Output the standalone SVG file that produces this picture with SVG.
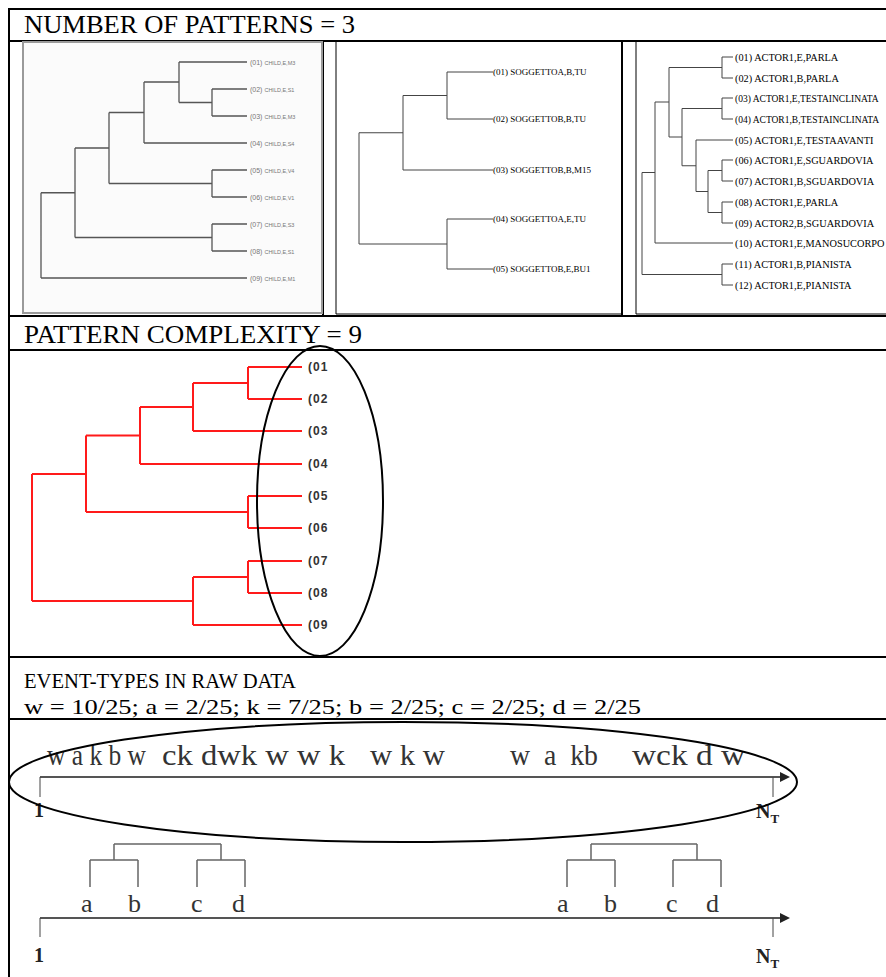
<svg xmlns="http://www.w3.org/2000/svg" width="886" height="977" viewBox="0 0 886 977">
<style>
.frame{stroke:#000;stroke-width:2;fill:none}
.thin{stroke:#000;stroke-width:1;fill:none}
.title{font-family:"Liberation Serif","Times New Roman",serif;font-size:25px;fill:#000}
.sub{font-family:"Liberation Serif","Times New Roman",serif;font-size:22px;fill:#000}
.g1{stroke:#555;stroke-width:1.3;fill:none}
.g2{stroke:#444;stroke-width:1;fill:none}
.red{stroke:#ff1a1a;stroke-width:2;fill:none}
.lab1{font-family:"Liberation Sans",Arial,sans-serif;font-size:7px;fill:#777}
.lab1s{font-size:5.5px}
.lab2{font-family:"Liberation Serif","Times New Roman",serif;font-size:9px;fill:#000}
.lab3{font-family:"Liberation Serif","Times New Roman",serif;font-size:10.3px;fill:#000}
.lab3n{font-size:9.5px}
.labr{font-family:"Liberation Sans",Arial,sans-serif;font-size:12px;font-weight:bold;fill:#333;letter-spacing:1px}
.seq{font-family:"Liberation Serif","Times New Roman",serif;font-size:29px;fill:#333}
.let{font-family:"Liberation Serif","Times New Roman",serif;font-size:26px;fill:#333}
.num{font-family:"Liberation Serif","Times New Roman",serif;font-size:20px;font-weight:bold;fill:#222}
.numt{font-size:13px}
.axis{stroke:#555;stroke-width:2;fill:none}
.br{stroke:#666;stroke-width:1.5;fill:none}
.ell{stroke:#000;stroke-width:2;fill:none}
</style>
<defs>
<marker id="arr" markerWidth="10" markerHeight="10" refX="8" refY="5" orient="auto" markerUnits="userSpaceOnUse">
<path d="M0,0 L10,5 L0,10 Z" fill="#222"/>
</marker>
</defs>
<rect width="886" height="977" fill="#fff"/>

<g id="table">
<line class="frame" x1="9" y1="9" x2="886" y2="9"/>
<line class="frame" x1="9" y1="8" x2="9" y2="977"/>
<line class="frame" x1="9" y1="41" x2="886" y2="41"/>
<line class="frame" x1="9" y1="316" x2="886" y2="316"/>
<line class="frame" x1="9" y1="350" x2="886" y2="350"/>
<line class="frame" x1="9" y1="657" x2="886" y2="657"/>
<line class="frame" x1="9" y1="719" x2="886" y2="719"/>
<line class="frame" x1="323" y1="41" x2="323" y2="316"/>
<line class="frame" x1="622" y1="41" x2="622" y2="316"/>
</g>

<g id="titles">
<text class="title" x="24" y="33" textLength="331" lengthAdjust="spacingAndGlyphs">NUMBER OF PATTERNS = 3</text>
<text class="title" x="24" y="343" textLength="338" lengthAdjust="spacingAndGlyphs">PATTERN COMPLEXITY = 9</text>
<text class="sub" x="24" y="688" textLength="272" lengthAdjust="spacingAndGlyphs">EVENT-TYPES IN RAW DATA</text>
<text class="sub" x="24" y="714" textLength="617" lengthAdjust="spacingAndGlyphs">w = 10/25; a = 2/25; k = 7/25; b = 2/25; c = 2/25; d = 2/25</text>
</g>

<g id="panel1">
<rect x="23" y="42" width="299" height="271" fill="#fbfbfb" stroke="#9a9a9a" stroke-width="2"/>
<path class="g1" d="M179,62H247 M212,89H247 M212,116H247 M144,143H247 M212,170H247 M212,197H247 M212,224H247 M212,251H247 M41,278H247
M212,89V116 M179,102.5H212 M179,62V102.5 M144,82H179 M144,82V143 M109,112.5H144
M212,170V197 M109,183.5H212 M109,112.5V183.5 M75,148H109
M212,224V251 M75,237.5H212 M75,148V237.5 M41,192.75H75 M41,192.75V278"/>
<text class="lab1" x="250" y="64.5">(01) <tspan class="lab1s">CHILD,E,M3</tspan></text>
<text class="lab1" x="250" y="91.5">(02) <tspan class="lab1s">CHILD,E,S1</tspan></text>
<text class="lab1" x="250" y="118.5">(03) <tspan class="lab1s">CHILD,E,M3</tspan></text>
<text class="lab1" x="250" y="145.5">(04) <tspan class="lab1s">CHILD,E,S4</tspan></text>
<text class="lab1" x="250" y="172.5">(05) <tspan class="lab1s">CHILD,E,V4</tspan></text>
<text class="lab1" x="250" y="199.5">(06) <tspan class="lab1s">CHILD,E,V1</tspan></text>
<text class="lab1" x="250" y="226.5">(07) <tspan class="lab1s">CHILD,E,S3</tspan></text>
<text class="lab1" x="250" y="253.5">(08) <tspan class="lab1s">CHILD,E,S1</tspan></text>
<text class="lab1" x="250" y="280.5">(09) <tspan class="lab1s">CHILD,E,M1</tspan></text>
</g>

<g id="panel2">
<line class="thin" x1="336" y1="41" x2="336" y2="314"/>
<line class="thin" x1="336" y1="314" x2="622" y2="314"/>
<path class="g2" d="M447,72H493 M447,119H493 M447,72V119 M403,95.5H447 M403,170H493 M403,95.5V170 M359,132.75H403
M447,219H493 M447,269H493 M447,219V269 M359,244H447 M359,132.75V244"/>
<text class="lab2" x="493" y="75">(01) SOGGETTOA,B,TU</text>
<text class="lab2" x="493" y="122">(02) SOGGETTOB,B,TU</text>
<text class="lab2" x="493" y="173">(03) SOGGETTOB,B,M15</text>
<text class="lab2" x="493" y="222">(04) SOGGETTOA,E,TU</text>
<text class="lab2" x="493" y="272">(05) SOGGETTOB,E,BU1</text>
</g>

<g id="panel3">
<line class="thin" x1="636" y1="41" x2="636" y2="314"/>
<line class="thin" x1="636" y1="314" x2="886" y2="314"/>
<path class="g2" d="M722,57H733 M722,78H733 M722,57V78
M722,98H733 M722,119H733 M722,98V119
M722,160H733 M722,181H733 M722,160V181
M722,202H733 M722,223H733 M722,202V223
M708,170.5H722 M708,212.5H722 M708,170.5V212.5
M696,140H733 M696,191.5H708 M696,140V191.5
M682,108.5H722 M682,165.75H696 M682,108.5V165.75
M669,67.5H722 M669,137H682 M669,67.5V137
M655,243H733 M655,102H669 M655,102V243
M722,264H733 M722,285H733 M722,264V285
M642,172.5H655 M642,274.5H722 M642,172.5V274.5"/>
<text class="lab3" x="735" y="60.5">(01) ACTOR1,E,PARLA</text>
<text class="lab3" x="735" y="81.5">(02) ACTOR1,B,PARLA</text>
<text class="lab3 lab3n" x="735" y="101.5">(03) ACTOR1,E,TESTAINCLINATA</text>
<text class="lab3 lab3n" x="735" y="122.5">(04) ACTOR1,B,TESTAINCLINATA</text>
<text class="lab3" x="735" y="143.5">(05) ACTOR1,E,TESTAAVANTI</text>
<text class="lab3" x="735" y="163.5">(06) ACTOR1,E,SGUARDOVIA</text>
<text class="lab3" x="735" y="184.5">(07) ACTOR1,B,SGUARDOVIA</text>
<text class="lab3" x="735" y="205.5">(08) ACTOR1,E,PARLA</text>
<text class="lab3" x="735" y="226.5">(09) ACTOR2,B,SGUARDOVIA</text>
<text class="lab3" x="735" y="246.5">(10) ACTOR1,E,MANOSUCORPO</text>
<text class="lab3" x="735" y="267.5">(11) ACTOR1,B,PIANISTA</text>
<text class="lab3" x="735" y="288.5">(12) ACTOR1,E,PIANISTA</text>
</g>

<g id="complexity">
<path class="red" d="M248,367H302 M248,399H302 M248,367V399 M193,383H248 M193,431H302 M193,383V431 M140,407H193
M140,464H302 M140,407V464 M86,435.5H140
M248,496H302 M248,528H302 M248,496V528 M86,512H248 M86,435.5V512 M32,474H86
M248,561H302 M248,593H302 M248,561V593 M193,577H248 M193,625H302 M193,577V625 M32,601H193 M32,474V601"/>
<text class="labr" x="308" y="371">(01</text>
<text class="labr" x="308" y="403">(02</text>
<text class="labr" x="308" y="435">(03</text>
<text class="labr" x="308" y="468">(04</text>
<text class="labr" x="308" y="500">(05</text>
<text class="labr" x="308" y="532">(06</text>
<text class="labr" x="308" y="565">(07</text>
<text class="labr" x="308" y="597">(08</text>
<text class="labr" x="308" y="629">(09</text>
<ellipse class="ell" cx="320" cy="501" rx="63" ry="155"/>
</g>

<g id="rawdata">
<text class="seq" x="47" y="765" textLength="99" lengthAdjust="spacingAndGlyphs">w a k b w</text>
<text class="seq" x="162" y="765" textLength="183" lengthAdjust="spacingAndGlyphs">ck dwk w w k</text>
<text class="seq" x="370" y="765" textLength="75" lengthAdjust="spacingAndGlyphs">w k w</text>
<text class="seq" x="510" y="765" textLength="88" lengthAdjust="spacingAndGlyphs" xml:space="preserve">w  a  kb</text>
<text class="seq" x="632" y="765" textLength="113" lengthAdjust="spacingAndGlyphs">wck d w</text>
<line class="axis" x1="40" y1="777" x2="788" y2="777" marker-end="url(#arr)"/>
<line class="g2" x1="40" y1="777" x2="40" y2="797"/>
<line class="g2" x1="773" y1="777" x2="773" y2="797"/>
<text class="num" x="34" y="817">1</text>
<text class="num" x="756" y="818">N<tspan class="numt" dy="5">T</tspan></text>
<ellipse class="ell" cx="403" cy="782" rx="394" ry="60"/>
</g>

<g id="patterns">
<path class="br" d="M90,860V887 M138,860V887 M90,860H138 M114,844V860 M197,860V887 M245,860V887 M197,860H245 M221,844V860 M114,844H221
M567,860V887 M615,860V887 M567,860H615 M591,844V860 M673,860V887 M721,860V887 M673,860H721 M697,844V860 M591,844H697"/>
<text class="let" x="81" y="912">a</text>
<text class="let" x="128" y="912">b</text>
<text class="let" x="191" y="912">c</text>
<text class="let" x="232" y="912">d</text>
<text class="let" x="557" y="912">a</text>
<text class="let" x="604" y="912">b</text>
<text class="let" x="666" y="912">c</text>
<text class="let" x="706" y="912">d</text>
<line class="axis" x1="40" y1="918" x2="788" y2="918" marker-end="url(#arr)"/>
<line class="g2" x1="40" y1="918" x2="40" y2="937"/>
<line class="g2" x1="773" y1="918" x2="773" y2="937"/>
<text class="num" x="34" y="962">1</text>
<text class="num" x="756" y="963">N<tspan class="numt" dy="5">T</tspan></text>
</g>
</svg>
